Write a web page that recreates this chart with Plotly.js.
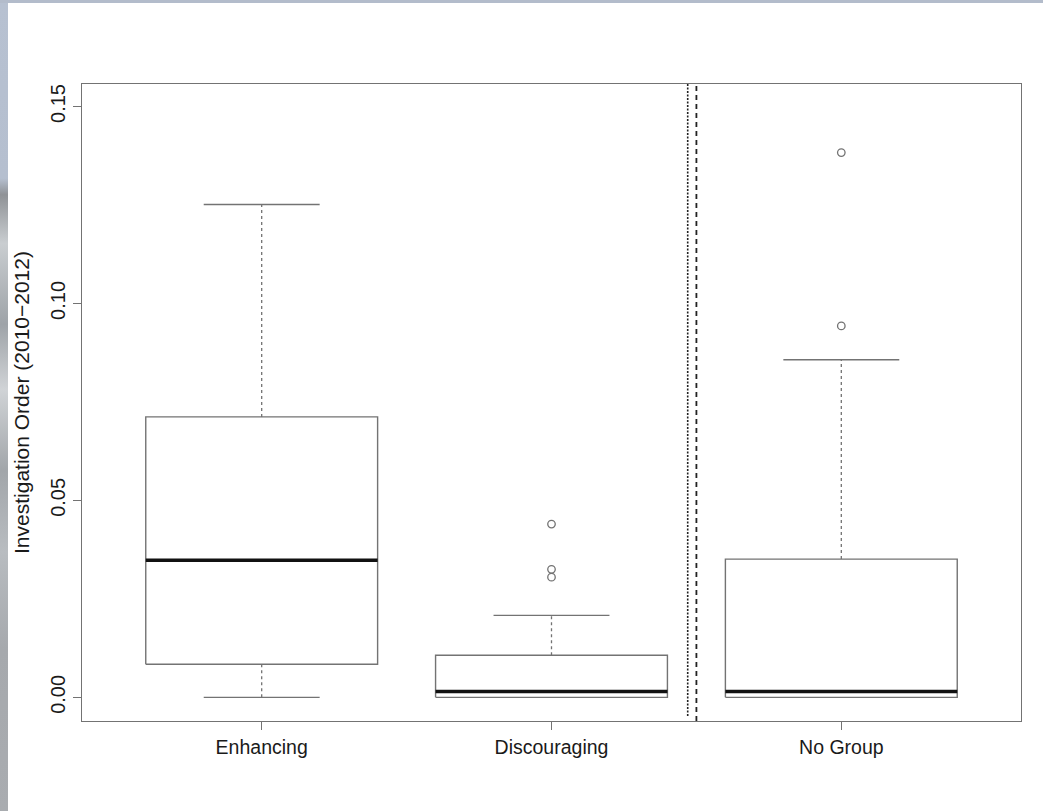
<!DOCTYPE html>
<html>
<head>
<meta charset="utf-8">
<script src="https://cdn.plot.ly/plotly-3.0.1.min.js"></script>
<style>
  html, body { margin: 0; padding: 0; background: #ffffff; }
  #wrap { position: relative; width: 1043px; height: 811px; overflow: hidden; }
  #chart { position: absolute; left: 0; top: 0; width: 1043px; height: 811px; }
  #stripL { position: absolute; left: 0; top: 0; width: 8px; height: 811px;
    background: linear-gradient(to bottom, #b7c1d1 0%, #b5bfcf 22%, #8f9296 24%, #c9cdd0 30%, #9ea3a8 40%, #d0d3d6 48%, #a2a6aa 58%, #b8bcc0 68%, #a6a9ad 80%, #a9acb0 100%); }
  #stripT { position: absolute; left: 0; top: 0; width: 1043px; height: 3px; background: #b3bccb; }
</style>
</head>
<body>
<div id="wrap">
  <div id="chart"></div>
  <div id="stripL"></div>
  <div id="stripT"></div>
</div>
<script>
// ---- data ----
var categories    = ["Enhancing", "Discouraging", "No Group"];
var lowerWhisker  = [0.0000, 0.0000, 0.0000];
var q1            = [0.0084, 0.0000, 0.0000];
var medians       = [0.0348, 0.0015, 0.0015];
var q3            = [0.0712, 0.0107, 0.0351];
var upperWhisker  = [0.1251, 0.0208, 0.0857];
var outliersDisc  = [0.0440, 0.0325, 0.0305];
var outliersNoGrp = [0.1383, 0.0943];
var yTickVals     = [0, 0.05, 0.10, 0.15];
var yTickText     = ["0.00", "0.05", "0.10", "0.15"];
var separatorDotted = 2.47;
var separatorDashed = 2.5;

// ---- build traces ----
var boxHalf = 0.4, capHalf = 0.2;
var pos = categories.map(function (c, i) { return i + 1; });

var bx = [], by = [], mx = [], my = [], wx = [], wy = [], cx = [], cy = [];
pos.forEach(function (p, i) {
  bx.push(p - boxHalf, p + boxHalf, p + boxHalf, p - boxHalf, p - boxHalf, null);
  by.push(q1[i], q1[i], q3[i], q3[i], q1[i], null);
  mx.push(p - boxHalf, p + boxHalf, null);
  my.push(medians[i], medians[i], null);
  wx.push(p, p, null, p, p, null);
  wy.push(q3[i], upperWhisker[i], null, q1[i], lowerWhisker[i], null);
  cx.push(p - capHalf, p + capHalf, null, p - capHalf, p + capHalf, null);
  cy.push(upperWhisker[i], upperWhisker[i], null, lowerWhisker[i], lowerWhisker[i], null);
});

var ox = [], oy = [];
outliersDisc.forEach(function (v) { ox.push(2); oy.push(v); });
outliersNoGrp.forEach(function (v) { ox.push(3); oy.push(v); });

var gray = "#737373";
var traces = [
  { type: "scatter", mode: "lines", x: wx, y: wy, hoverinfo: "skip",
    line: { color: gray, width: 1.3, dash: "3px,3px" } },
  { type: "scatter", mode: "lines", x: cx, y: cy, hoverinfo: "skip",
    line: { color: gray, width: 1.4 } },
  { type: "scatter", mode: "lines", x: bx, y: by, fill: "toself", fillcolor: "#ffffff",
    hoverinfo: "skip", line: { color: gray, width: 1.4 } },
  { type: "scatter", mode: "lines", x: mx, y: my, hoverinfo: "skip",
    line: { color: "#111111", width: 3.6 } },
  { type: "scatter", mode: "markers", x: ox, y: oy, hoverinfo: "skip",
    marker: { symbol: "circle-open", size: 7.5, color: gray, line: { width: 1.3, color: gray } } }
];

var font = { family: "Liberation Sans, Arial, sans-serif", size: 19.5, color: "#1a1a1a" };

var layout = {
  width: 1043, height: 811,
  paper_bgcolor: "#ffffff", plot_bgcolor: "#ffffff",
  showlegend: false,
  margin: { l: 82, r: 22, t: 84, b: 90, pad: 0 },
  font: font,
  xaxis: {
    range: [0.38, 3.62], tickvals: pos, ticktext: categories,
    showgrid: false, zeroline: false,
    showline: true, mirror: true, linecolor: gray, linewidth: 1.3,
    ticks: "outside", ticklen: 8, tickcolor: gray, tickwidth: 1.2,
    tickfont: font
  },
  yaxis: {
    range: [-0.006, 0.1557], tickvals: yTickVals, ticktext: yTickText,
    tickangle: -90,
    showgrid: false, zeroline: false,
    showline: true, mirror: true, linecolor: gray, linewidth: 1.3,
    ticks: "outside", ticklen: 8, tickcolor: gray, tickwidth: 1.2,
    tickfont: { family: font.family, size: 20, color: font.color },
    title: { text: "Investigation Order (2010\u22122012)", standoff: 11,
             font: { family: font.family, size: 21, color: font.color } }
  },
  shapes: [
    { type: "line", xref: "x", yref: "paper", x0: separatorDotted, x1: separatorDotted, y0: 0.008, y1: 1,
      line: { color: "#222222", width: 1.6, dash: "2px,1.5px" } },
    { type: "line", xref: "x", yref: "paper", x0: separatorDashed, x1: separatorDashed, y0: 0, y1: 1,
      line: { color: "#222222", width: 1.8, dash: "5px,4px" } }
  ]
};

Plotly.newPlot("chart", traces, layout, { displayModeBar: false, staticPlot: true });
</script>
</body>
</html>
